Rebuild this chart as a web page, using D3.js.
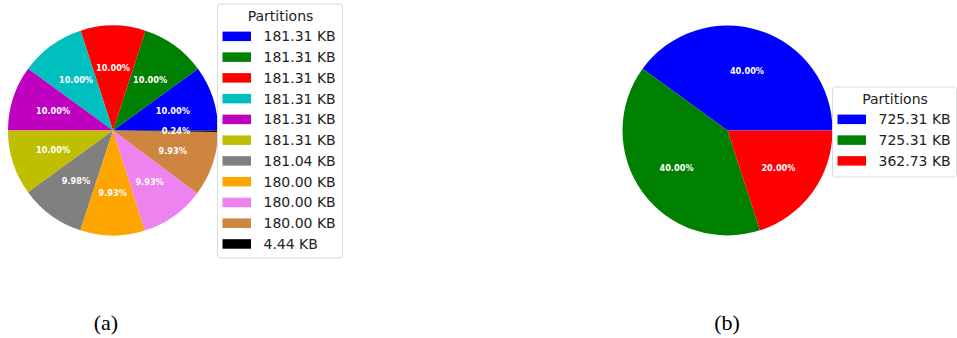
<!DOCTYPE html>
<html><head><meta charset="utf-8">
<script src="https://cdn.jsdelivr.net/npm/d3@7"></script>
<style>body{margin:0;background:#fff}svg{display:block}</style>
</head><body>
<svg id="c" width="957" height="338"></svg>
<script>
// Panel (a)
const labelsA = ["181.31 KB","181.31 KB","181.31 KB","181.31 KB","181.31 KB","181.31 KB","181.04 KB","180.00 KB","180.00 KB","180.00 KB","4.44 KB"];
const valuesA = [181.31,181.31,181.31,181.31,181.31,181.31,181.04,180.00,180.00,180.00,4.44];
const colorsA = ["#0000ff","#008000","#ff0000","#00bfbf","#bf00bf","#bfbf00","#808080","#ffa500","#ee82ee","#cd853f","#000000"];
// Panel (b)
const labelsB = ["725.31 KB","725.31 KB","362.73 KB"];
const valuesB = [725.31,725.31,362.73];
const colorsB = ["#0000ff","#008000","#ff0000"];
const legendTitle = "Partitions";
const captions = ["(a)","(b)"];

const svg = d3.select("#c");
const font = "'DejaVu Sans', sans-serif";

function drawPie(cx, cy, r, values, colors) {
  const g = svg.append("g").attr("transform", `translate(${cx},${cy})`);
  const total = d3.sum(values);
  const pie = d3.pie().sort(null).value(d => d)
    .startAngle(Math.PI/2).endAngle(Math.PI/2 - 2*Math.PI);
  const arcs = pie(values);
  const arc = d3.arc().innerRadius(0).outerRadius(r);
  const labArc = d3.arc().innerRadius(r*0.6).outerRadius(r*0.6);
  g.selectAll("path").data(arcs).join("path")
    .attr("d", arc).attr("fill", (d,i) => colors[i]);
  g.selectAll("text").data(arcs).join("text")
    .attr("transform", d => `translate(${labArc.centroid(d)})`)
    .attr("text-anchor","middle").attr("dominant-baseline","central")
    .attr("font-family", font).attr("font-weight","bold").attr("font-size", 8.2)
    .attr("fill","#fff")
    .text(d => (d.value/total*100).toFixed(2) + "%");
}

function drawLegend(x, y, w, h, labels, colors) {
  const g = svg.append("g").attr("transform", `translate(${x},${y})`);
  g.append("rect").attr("x",0.5).attr("y",0.5).attr("width",w).attr("height",h)
    .attr("rx",3).attr("fill","#fff").attr("stroke","#d9d9d9").attr("stroke-width",1);
  g.append("text").attr("x", w/2+1).attr("y", 12)
    .attr("text-anchor","middle").attr("dominant-baseline","central")
    .attr("font-family", font).attr("font-size",14).attr("fill","#222").text(legendTitle);
  const row = 20.76;
  labels.forEach((lab,i) => {
    const yy = 32.8 + i*row;
    g.append("rect").attr("x",5.5).attr("y",yy-4.7).attr("width",28.5).attr("height",9.5)
      .attr("fill",colors[i]);
    g.append("text").attr("x",46.5).attr("y",yy).attr("dominant-baseline","central")
      .attr("font-family", font).attr("font-size",14).attr("fill","#222").text(lab);
  });
}

drawPie(113, 130.5, 105, valuesA, colorsA);
drawLegend(217, 3.5, 125, 254, labelsA, colorsA);
drawPie(727.5, 130.5, 105, valuesB, colorsB);
drawLegend(832, 86.5, 124, 90, labelsB, colorsB);

svg.selectAll("text.cap").data(captions).join("text").attr("class","cap")
  .attr("x", (d,i) => [106, 727][i]).attr("y", 322)
  .attr("text-anchor","middle").attr("dominant-baseline","central")
  .attr("font-family","'Liberation Serif', serif").attr("font-size",22).attr("fill","#000")
  .text(d => d);
</script>
</body></html>
